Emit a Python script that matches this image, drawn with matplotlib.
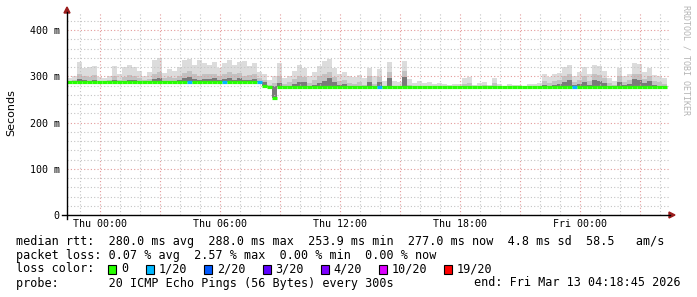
import pandas as pd
import matplotlib
matplotlib.use('Agg')
from matplotlib import pyplot as plt
import matplotlib.dates as mdates
from matplotlib.ticker import MultipleLocator, FuncFormatter
from matplotlib.patches import Rectangle, Polygon
from matplotlib.lines import Line2D

plt.rcParams['font.family'] = ['DejaVu Sans Mono']

# 30 hours of samples, resampled to 15 min bins (values in ms)
end_time = pd.Timestamp('2026-03-13 04:18:45')
start_time = end_time - pd.Timedelta(hours=30)

median = [
    287, 287, 287, 287, 287, 287, 287, 287, 287, 287, 287, 287, 287, 287, 287, 287, 287, 287, 287, 287,
    287, 287, 287, 287, 287, 287, 287, 287, 287, 287, 287, 287, 287, 287, 287, 287, 287, 287, 287, 279,
    277, 254, 277, 277, 277, 277, 277, 277, 277, 277, 277, 277, 277, 277, 277, 277, 277, 277, 277, 277,
    277, 277, 277, 277, 277, 277, 277, 277, 277, 277, 277, 277, 277, 277, 277, 277, 277, 277, 277, 277,
    277, 277, 277, 277, 277, 277, 277, 277, 277, 277, 277, 277, 277, 277, 277, 277, 277, 277, 277, 277,
    277, 277, 277, 277, 277, 277, 277, 277, 277, 277, 277, 277, 277, 277, 277, 277, 277, 277, 277, 277]

# lost pings out of 20 per bin
loss = [
    0, 0, 0, 0, 0, 0, 0, 0, 0, 0, 0, 0, 0, 0, 0, 0, 0, 0, 0, 0,
    0, 0, 0, 0, 1, 0, 0, 0, 0, 0, 0, 1, 0, 0, 0, 0, 0, 0, 1, 0,
    0, 0, 0, 0, 0, 0, 0, 0, 0, 0, 0, 0, 0, 0, 0, 0, 0, 0, 0, 0,
    0, 0, 1, 0, 0, 0, 0, 0, 0, 0, 0, 0, 0, 0, 0, 0, 0, 0, 0, 0,
    0, 0, 0, 0, 0, 0, 0, 0, 0, 0, 0, 0, 0, 0, 0, 0, 0, 0, 0, 0,
    0, 1, 0, 0, 0, 0, 0, 0, 0, 0, 0, 0, 0, 0, 0, 0, 0, 0, 0, 0]

# smoke: upper envelopes of the ping spread
smoke_hi = [
    296, 300, 330, 318, 320, 322, 298, 296, 300, 322, 305, 320, 325, 320, 312, 300, 310, 335, 340, 307,
    315, 312, 320, 335, 338, 324, 335, 328, 325, 330, 318, 328, 335, 325, 332, 333, 322, 328, 310, 305,
    292, 300, 328, 296, 300, 312, 324, 318, 300, 310, 322, 333, 338, 318, 305, 310, 300, 298, 302, 296,
    318, 300, 316, 290, 332, 290, 288, 334, 295, 286, 290, 286, 288, 284, 286, 283, 282, 284, 283, 296,
    298, 282, 286, 288, 282, 296, 284, 280, 283, 281, 282, 280, 284, 283, 286, 306, 298, 304, 308, 320,
    324, 300, 309, 320, 305, 324, 322, 312, 296, 290, 318, 300, 306, 328, 326, 310, 318, 302, 300, 296]

smoke_mid = [
    290, 292, 305, 300, 298, 302, 290, 290, 292, 300, 292, 298, 302, 300, 296, 292, 294, 305, 310, 296,
    298, 296, 300, 308, 312, 305, 300, 306, 304, 306, 300, 304, 310, 304, 308, 300, 302, 304, 296, 292,
    282, 286, 300, 284, 288, 294, 300, 298, 286, 292, 300, 304, 310, 298, 290, 292, 286, 284, 288, 282,
    300, 284, 298, 280, 310, 280, 279, 312, 282, 279, 280, 279, 280, 279, 279, 278, 278, 279, 278, 284,
    285, 278, 280, 281, 278, 286, 279, 278, 278, 278, 278, 278, 279, 278, 280, 290, 286, 290, 292, 300,
    304, 288, 292, 300, 290, 304, 302, 296, 286, 282, 300, 288, 292, 306, 304, 294, 300, 290, 288, 284]

smoke_dark = [
    288, 289, 294, 291, 290, 293, 288, 288, 289, 292, 289, 290, 293, 292, 290, 288, 289, 294, 297, 290,
    290, 289, 292, 296, 298, 294, 292, 295, 294, 296, 292, 294, 297, 293, 296, 292, 293, 294, 290, 287,
    279, 280, 286, 279, 280, 284, 288, 287, 279, 282, 286, 290, 296, 288, 282, 283, 279, 278, 280, 278,
    288, 278, 287, 278, 296, 278, 277, 298, 278, 277, 277, 277, 277, 277, 277, 277, 277, 277, 277, 278,
    278, 277, 277, 277, 277, 278, 277, 277, 277, 277, 277, 277, 277, 277, 277, 281, 279, 282, 283, 288,
    292, 281, 283, 288, 282, 292, 290, 286, 280, 278, 288, 281, 283, 294, 292, 285, 289, 281, 280, 279]

loss_levels = ['0', '1/20', '2/20', '3/20', '4/20', '10/20', '19/20']
loss_colors = ['#26ff00', '#00b8ff', '#0059ff', '#5e00ff', '#7e00ff', '#dd00ff', '#ff0000']
loss_color_of = {0: '#26ff00', 1: '#00b8ff', 2: '#0059ff', 3: '#5e00ff', 4: '#7e00ff', 10: '#dd00ff', 19: '#ff0000'}

rtt_line = "median rtt:  280.0 ms avg  288.0 ms max  253.9 ms min  277.0 ms now  4.8 ms sd  58.5   am/s"
loss_line = "packet loss: 0.07 % avg  2.57 % max  0.00 % min  0.00 % now"
probe_line = "probe:       20 ICMP Echo Pings (56 Bytes) every 300s"
end_line = "end: Fri Mar 13 04:18:45 2026"

W, H = 697, 297
fig = plt.figure(figsize=(W / 100, H / 100), dpi=100, facecolor='white')
ax = fig.add_axes([66.5 / W, 1 - 215 / H, 603 / W, 202 / H])
ax.set_facecolor('white')

edges = pd.date_range(start_time, periods=len(median) + 1, freq='15min')
x = mdates.date2num(edges.to_pydatetime())

def ext(v):
    return list(v) + [v[-1]]

ax.fill_between(x, ext(median), ext(smoke_hi), step='post', color='#dcdcdc', lw=0, zorder=1)
ax.fill_between(x, ext(median), ext(smoke_mid), step='post', color='#c2c2c2', lw=0, zorder=1.1)
ax.fill_between(x, ext(median), ext(smoke_dark), step='post', color='#7a7a7a', lw=0, zorder=1.2)

ax.hlines(median, x[:-1], x[1:], colors=[loss_color_of[l] for l in loss], lw=2.3, zorder=3)

t0 = mdates.date2num(start_time.to_pydatetime())
ax.set_xlim(t0, t0 + 30.15 / 24)
ax.set_ylim(0, 437)

ax.xaxis.set_major_locator(mdates.HourLocator(byhour=range(0, 24, 3)))
ax.xaxis.set_minor_locator(mdates.HourLocator())

def xfmt(v, pos):
    d = mdates.num2date(v)
    return d.strftime('%a %H:%M') if d.hour % 6 == 0 else ''

ax.xaxis.set_major_formatter(FuncFormatter(xfmt))
ax.yaxis.set_major_locator(MultipleLocator(100))
ax.yaxis.set_minor_locator(MultipleLocator(20))
ax.yaxis.set_major_formatter(FuncFormatter(lambda v, p: '0' if v == 0 else f'{v:.0f} m'))

ax.set_axisbelow(False)
ax.grid(which='minor', color='#c4c4c4', linestyle=(0, (1, 2)), lw=0.8)
ax.grid(which='major', color='#e39a9a', linestyle=(0, (1, 2)), lw=0.8)
ax.tick_params(which='both', length=0)
ax.tick_params(axis='y', pad=5, labelsize=7.2)
ax.tick_params(axis='x', pad=3, labelsize=7.2)
for s in ax.spines.values():
    s.set_visible(False)

def fx(px):
    return px / W

def fy(py):
    return 1 - py / H

# axis lines and arrows
fig.add_artist(Line2D([fx(67), fx(67)], [fy(219), fy(12)], color='black', lw=1))
fig.add_artist(Line2D([fx(62), fx(670)], [fy(215), fy(215)], color='black', lw=1))
fig.add_artist(Polygon([(fx(67), fy(7)), (fx(64), fy(13)), (fx(70), fy(13))], closed=True, color='#9a1c1c'))
fig.add_artist(Polygon([(fx(675), fy(215)), (fx(669), fy(212)), (fx(669), fy(218))], closed=True, color='#9a1c1c'))

fig.text(fx(11), fy(113), 'Seconds', rotation=90, ha='center', va='center', fontsize=8, family='DejaVu Sans')
fig.text(fx(686), fy(5), 'RRDTOOL / TOBI OETIKER', rotation=270, ha='center', va='top', fontsize=6, color='#b4b4b4')

fs = 8.5
fig.text(fx(16), fy(241), rtt_line, ha='left', va='center', fontsize=fs)
fig.text(fx(16), fy(255), loss_line, ha='left', va='center', fontsize=fs)
fig.text(fx(16), fy(269), 'loss color:', ha='left', va='center', fontsize=fs)
box_x = [108, 146, 204, 262.5, 320.5, 378.5, 444]
for bx, lab, col in zip(box_x, loss_levels, loss_colors):
    fig.add_artist(Rectangle((fx(bx), fy(273.5)), 8 / W, 9 / H, facecolor=col, edgecolor='black', lw=0.8))
    fig.text(fx(bx + 13), fy(269), lab, ha='left', va='center', fontsize=fs)
fig.text(fx(16), fy(283), probe_line, ha='left', va='center', fontsize=fs)
fig.text(fx(681), fy(283), end_line, ha='right', va='center', fontsize=fs)

fig.savefig('out.png', dpi=100, facecolor='white')
